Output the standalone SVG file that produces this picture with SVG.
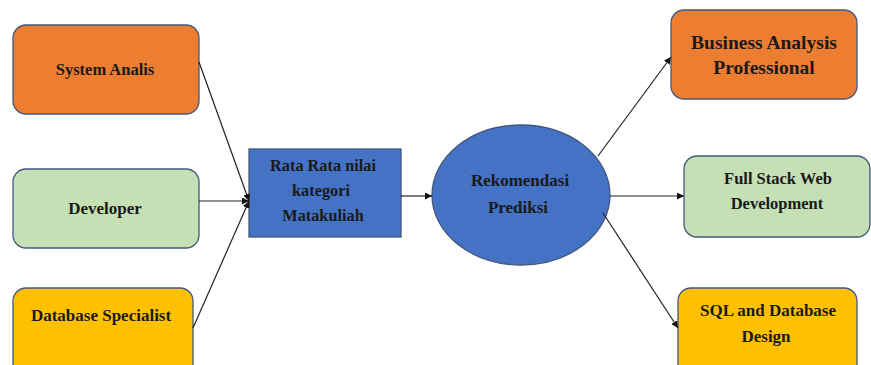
<svg xmlns="http://www.w3.org/2000/svg" width="871" height="365" viewBox="0 0 871 365">
<defs>
<style>
.box{stroke:#42587c;stroke-width:1.3}
.orange{fill:#ED7D31}.green{fill:#C5E0B4}.yellow{fill:#FFC000}.blue{fill:#4472C4}
text{font-family:"Liberation Serif","Times New Roman",serif;font-weight:bold;font-size:17px;fill:#1a1a1a;text-anchor:middle}
.conn line{stroke:#222;stroke-width:1.2}
</style>
<marker id="arr" viewBox="0 0 10 10" refX="10" refY="5" markerWidth="7" markerHeight="7" markerUnits="userSpaceOnUse" orient="auto"><path d="M0,0 L10,5 L0,10 z" fill="#111"/></marker>
</defs>
<rect width="871" height="365" fill="#fff"/>
<g id="system-analis"><rect class="box orange" x="13" y="25" width="186" height="89" rx="13"/><text x="105" y="75" style="font-size:16.5px">System Analis</text></g>
<g id="developer"><rect class="box green" x="13" y="169" width="186" height="79" rx="13"/><text x="105" y="214">Developer</text></g>
<g id="database-specialist"><rect class="box yellow" x="13" y="288" width="180" height="90" rx="13"/><text x="101" y="321">Database Specialist</text></g>
<g id="rata-rata" style="font-size:16.3px"><rect class="box blue" x="249" y="149" width="152" height="88"/><text x="323" y="171" style="font-size:16.3px">Rata Rata nilai</text><text x="321" y="196" style="font-size:16.3px">kategori</text><text x="323" y="221" style="font-size:16.3px">Matakuliah</text></g>
<g id="rekomendasi"><ellipse class="box blue" cx="521" cy="195" rx="89" ry="70"/><text x="520" y="186">Rekomendasi</text><text x="518" y="213">Prediksi</text></g>
<g id="business-analysis"><rect class="box orange" x="671" y="10" width="186" height="89" rx="13"/><text x="764" y="49" style="font-size:19.5px">Business Analysis</text><text x="764" y="74" style="font-size:19.5px">Professional</text></g>
<g id="full-stack"><rect class="box green" x="684" y="156" width="186" height="81" rx="13"/><text x="778" y="184" style="font-size:16.5px">Full Stack Web</text><text x="777" y="209" style="font-size:16.5px">Development</text></g>
<g id="sql-database"><rect class="box yellow" x="678" y="288" width="179" height="90" rx="13"/><text x="768" y="316">SQL and Database</text><text x="766" y="342">Design</text></g>
<g id="connectors" class="conn">
<line x1="199" y1="62" x2="249" y2="201" marker-end="url(#arr)"/>
<line x1="199" y1="201" x2="249" y2="201" marker-end="url(#arr)"/>
<line x1="193" y1="328" x2="249" y2="201" marker-end="url(#arr)"/>
<line x1="401" y1="196" x2="432" y2="196" marker-end="url(#arr)"/>
<line x1="598" y1="156" x2="671" y2="57" marker-end="url(#arr)"/>
<line x1="610" y1="196" x2="684" y2="196" marker-end="url(#arr)"/>
<line x1="603" y1="213" x2="678" y2="328" marker-end="url(#arr)"/>
</g>
</svg>
